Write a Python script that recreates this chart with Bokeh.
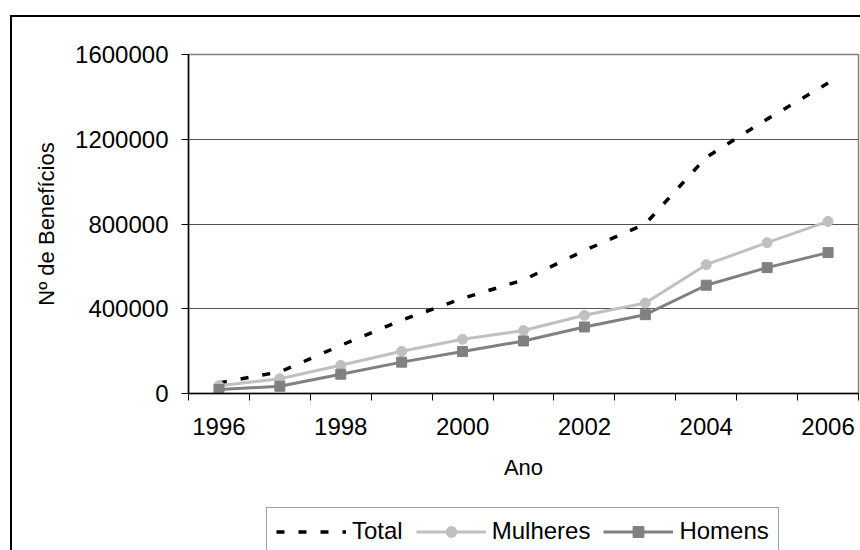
from bokeh.plotting import figure
from bokeh.layouts import column
from bokeh.models import Range1d, FixedTicker, BasicTickFormatter, Legend, LegendItem
from bokeh.embed import file_html
from bokeh.resources import INLINE

years = [1996, 1997, 1998, 1999, 2000, 2001, 2002, 2003, 2004, 2005, 2006]
total = [50000, 102000, 227000, 346000, 449000, 536000, 675000, 800000, 1115000, 1295000, 1465000]
mulheres = [37000, 70000, 133000, 199000, 256000, 297000, 369000, 427000, 608000, 712000, 812000]
homens = [19000, 34000, 91000, 148000, 198000, 248000, 314000, 372000, 511000, 594000, 665000]
x_labels = [1996, 1998, 2000, 2002, 2004, 2006]
y_ticks = [0, 400000, 800000, 1200000, 1600000]

FONT = "Liberation Sans"
STYLES = {
    "total": dict(line_color="black", line_width=3.5, line_dash="8 14"),
    "mulheres": dict(line_color="#c0c0c0", line_width=3),
    "homens": dict(line_color="#808080", line_width=3),
}
M_STYLE = dict(marker="circle", size=10, fill_color="#c0c0c0", line_color="#c0c0c0")
H_STYLE = dict(marker="square", size=10, fill_color="#808080", line_color="#808080")

p = figure(width=848, height=488, output_backend="svg", toolbar_location=None,
           x_range=Range1d(years[0] - 0.5, years[-1] + 0.5), y_range=Range1d(0, 1600000),
           min_border_left=176, min_border_right=2, min_border_top=37, min_border_bottom=112)
p.background_fill_color = "white"
p.border_fill_color = "white"
p.outline_line_color = "#808080"
p.outline_line_width = 1.5

p.xgrid.visible = False
p.ygrid.ticker = FixedTicker(ticks=y_ticks[1:-1])
p.ygrid.grid_line_color = "#555555"
p.ygrid.grid_line_width = 1

# x axis
xa = p.xaxis[0]
xa.ticker = FixedTicker(ticks=x_labels, minor_ticks=[y - 0.5 for y in years] + [years[-1] + 0.5])
xa.major_tick_out = 0
xa.major_tick_in = 0
xa.minor_tick_out = 7
xa.minor_tick_in = 0
xa.minor_tick_line_color = "black"
xa.axis_line_color = "black"
xa.axis_line_width = 1.5
xa.major_label_standoff = 17
xa.major_label_text_font = FONT
xa.major_label_text_font_size = "24px"
xa.major_label_text_color = "black"
xa.axis_label = "Ano"
xa.axis_label_text_font = FONT
xa.axis_label_text_font_size = "22px"
xa.axis_label_text_font_style = "normal"
xa.axis_label_text_color = "black"
xa.axis_label_standoff = 17

# y axis
ya = p.yaxis[0]
ya.ticker = FixedTicker(ticks=y_ticks)
ya.formatter = BasicTickFormatter(use_scientific=False)
ya.major_tick_out = 7
ya.major_tick_in = 0
ya.minor_tick_out = 0
ya.minor_tick_in = 0
ya.major_tick_line_color = "black"
ya.axis_line_color = "black"
ya.axis_line_width = 1.5
ya.major_label_standoff = 13
ya.major_label_text_font = FONT
ya.major_label_text_font_size = "24px"
ya.major_label_text_color = "black"
ya.axis_label = "Nº de Benefícios"
ya.axis_label_text_font = FONT
ya.axis_label_text_font_size = "22px"
ya.axis_label_text_font_style = "normal"
ya.axis_label_text_color = "black"
ya.axis_label_standoff = 13

p.line(years, total, **STYLES["total"])
p.line(years, mulheres, **STYLES["mulheres"])
p.scatter(years, mulheres, **M_STYLE)
p.line(years, homens, **STYLES["homens"])
p.scatter(years, homens, **H_STYLE)

# legend strip below the chart: same series, drawn outside its (empty) view
q = figure(width=848, height=45, output_backend="svg", toolbar_location=None,
           x_range=Range1d(years[0] - 0.5, years[-1] + 0.5), y_range=Range1d(-20, -10),
           x_axis_location=None, y_axis_location=None,
           min_border_left=176, min_border_right=2, min_border_top=0, min_border_bottom=0)
q.grid.visible = False
q.outline_line_color = None
q.background_fill_color = "white"
q.border_fill_color = "white"
lt = q.line(years, total, **STYLES["total"])
lm = q.line(years, mulheres, **STYLES["mulheres"])
sm = q.scatter(years, mulheres, **M_STYLE)
lh = q.line(years, homens, **STYLES["homens"])
sh = q.scatter(years, homens, **H_STYLE)

legend = Legend(items=[LegendItem(label="Total", renderers=[lt]),
                       LegendItem(label="Mulheres", renderers=[lm, sm]),
                       LegendItem(label="Homens", renderers=[lh, sh])],
                orientation="horizontal", location=(78, -5))
legend.glyph_width = 70
legend.glyph_height = 27
legend.label_height = 27
legend.label_standoff = 6
legend.spacing = 13
legend.padding = 9
legend.margin = 0
legend.border_line_color = "#404040"
legend.border_line_width = 1
legend.background_fill_color = "white"
legend.background_fill_alpha = 1
legend.label_text_font = FONT
legend.label_text_font_size = "24px"
legend.label_text_color = "black"
q.add_layout(legend, "center")

layout = column(p, q, spacing=0,
                styles={"margin-left": "10px", "margin-top": "15px",
                        "border-left": "2px solid black", "border-top": "2px solid black"})

open("out.html", "w").write(file_html(layout, INLINE))
